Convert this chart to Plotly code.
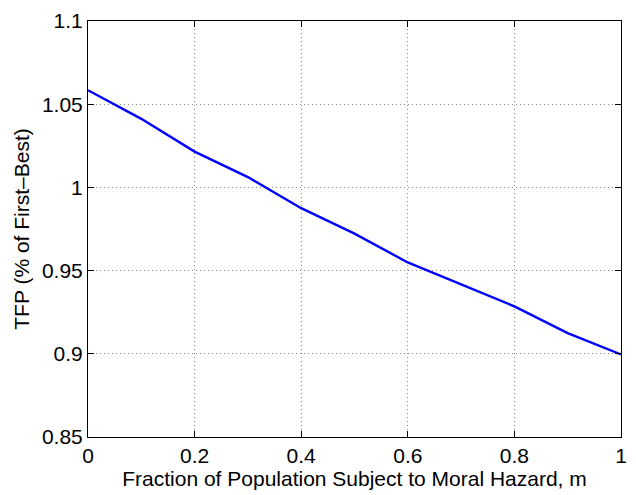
import plotly.graph_objects as go

# Fraction of population subject to moral hazard
m_values = [0.0, 0.1, 0.2, 0.3, 0.4, 0.5, 0.6, 0.7, 0.8, 0.9, 1.0]
# TFP relative to first-best
tfp_values = [1.0584, 1.0412, 1.0215, 1.0062, 0.9875, 0.9722, 0.9549, 0.9418, 0.9285, 0.9124, 0.8996]

x_ticks = [0, 0.2, 0.4, 0.6, 0.8, 1.0]
x_tick_labels = ["0", "0.2", "0.4", "0.6", "0.8", "1"]
y_ticks = [0.85, 0.9, 0.95, 1.0, 1.05, 1.1]
y_tick_labels = ["0.85", "0.9", "0.95", "1", "1.05", "1.1"]

FONT = "Liberation Sans, Arial, Helvetica, sans-serif"
FS = 21

fig = go.Figure()
fig.add_trace(go.Scatter(
    x=m_values, y=tfp_values, mode="lines",
    line=dict(color="#0000ff", width=2.4),
    showlegend=False,
))

axis_common = dict(
    showline=True, linecolor="black", linewidth=1, mirror="ticks",
    ticks="inside", ticklen=6, tickcolor="black", tickwidth=1,
    showgrid=True, gridcolor="#8c8c8c", gridwidth=1, griddash="1px,3px",
    zeroline=False,
    tickfont=dict(family=FONT, size=FS, color="black"),
)

fig.update_layout(
    width=636, height=495,
    margin=dict(l=88, r=9, t=13, b=58),
    paper_bgcolor="white", plot_bgcolor="white",
    font=dict(family=FONT, size=FS, color="black"),
    xaxis=dict(
        range=[0, 1], tickvals=x_ticks, ticktext=x_tick_labels,
        title=dict(text="Fraction of Population Subject to Moral Hazard, m",
                   font=dict(family=FONT, size=FS, color="black"), standoff=0),
        **axis_common,
    ),
    yaxis=dict(
        range=[0.85, 1.1], tickvals=y_ticks, ticktext=y_tick_labels,
        title=dict(text="TFP (% of First\u2013Best)",
                   font=dict(family=FONT, size=FS, color="black"), standoff=6),
        **axis_common,
    ),
)

fig.write_html("out.html")
